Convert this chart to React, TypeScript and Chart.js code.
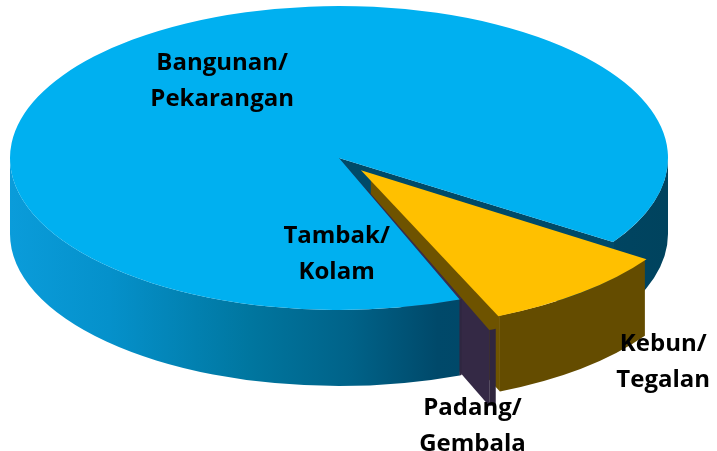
import React, { useEffect, useRef } from 'react';
import { Chart, registerables } from 'chart.js';

Chart.register(...registerables);

// ---- data ----
const categories = ['Kebun/Tegalan', 'Padang/Gembala', 'Tambak/Kolam', 'Bangunan/Pekarangan'];
const labelLines = [
  ['Kebun/', 'Tegalan'],
  ['Padang/', 'Gembala'],
  ['Tambak/', 'Kolam'],
  ['Bangunan/', 'Pekarangan'],
];
const shares = [9.25, 0.34, 0.1, 90.31];

// ---- styles ----
const topColors = ['#FFC000', '#8064A2', '#3A2E50', '#00B0F0'];
const faceColors = ['#6E5300', '#342945', '#2F2640', '#004A68'];
const wallColors = ['#644C00', '#30263E', '#2F2640', ''];
const explode = [77, 82, 0, 0];
const labelNudge = [
  [82, 70],
  [-20, 97],
  [-124, -45],
  [90, 41],
];

// ---- 3D projection (screen) ----
const CX = 339;
const CY = 158;
const RX = 329;
const RY = 152;
const DEPTH = 76;
const START_DEG = 33.6;

function geom(arc: any) {
  const s = arc.startAngle;
  const e = arc.endAngle;
  const circ = arc.circumference ?? e - s;
  const off = (arc.options.offset || 0) / 4;
  const fix = 1 - Math.sin(Math.min(Math.PI, circ || 0));
  const t = off + off * fix;
  const mid = (s + e) / 2;
  return {
    s,
    e,
    mid,
    x: arc.x + Math.cos(mid) * t,
    y: arc.y + Math.sin(mid) * t,
    r: arc.outerRadius,
  };
}

function frontIntervals(s: number, e: number) {
  const out: number[][] = [];
  for (let k = -2; k <= 3; k++) {
    const a = Math.max(s, 2 * Math.PI * k);
    const b = Math.min(e, 2 * Math.PI * k + Math.PI);
    if (b > a) out.push([a, b]);
  }
  return out;
}

const pie3d = {
  id: 'pie3d',
  beforeDatasetsDraw(chart: any) {
    const ctx = chart.ctx as CanvasRenderingContext2D;
    const meta = chart.getDatasetMeta(0);
    const arcs = meta.data;
    if (!arcs.length) return;
    const a0 = arcs[0];
    const R = a0.outerRadius;
    const px = a0.x;
    const py = a0.y;
    const sx = RX / R;
    const sy = RY / R;
    const D = DEPTH / sy;
    ctx.save();
    ctx.translate(CX, CY);
    ctx.scale(sx, sy);
    ctx.translate(-px, -py);

    const g = arcs.map(geom);

    // radial faces (back to front)
    const faceOrder = [3, 0, 2, 1];
    for (const i of faceOrder) {
      const q = g[i];
      const angles: number[] = [];
      if (Math.cos(q.s) < 0) angles.push(q.s);
      if (Math.cos(q.e) > 0) angles.push(q.e);
      for (const a of angles) {
        const ox = q.x + q.r * Math.cos(a);
        const oy = q.y + q.r * Math.sin(a);
        ctx.beginPath();
        ctx.moveTo(q.x, q.y);
        ctx.lineTo(ox, oy);
        ctx.lineTo(ox, oy + D);
        ctx.lineTo(q.x, q.y + D);
        ctx.closePath();
        ctx.fillStyle = faceColors[i];
        ctx.fill();
      }
    }

    // outer walls
    const wallOrder = [3, 2, 1, 0];
    for (const i of wallOrder) {
      const q = g[i];
      let fill: any = wallColors[i];
      if (!fill) {
        const grad = ctx.createLinearGradient(px - R, 0, px + R, 0);
        grad.addColorStop(0, '#0A9CDA');
        grad.addColorStop(0.15, '#0591CB');
        grad.addColorStop(0.365, '#00769F');
        grad.addColorStop(0.52, '#006288');
        grad.addColorStop(0.65, '#00496A');
        grad.addColorStop(1, '#00435E');
        fill = grad;
      }
      for (const [a, b] of frontIntervals(q.s, q.e)) {
        ctx.beginPath();
        ctx.arc(q.x, q.y, q.r, a, b, false);
        ctx.arc(q.x, q.y + D, q.r, b, a, true);
        ctx.closePath();
        ctx.fillStyle = fill;
        ctx.fill();
      }
    }
    // keep transform for the native top faces
  },
  afterDatasetsDraw(chart: any) {
    const ctx = chart.ctx as CanvasRenderingContext2D;
    ctx.restore();
    const meta = chart.getDatasetMeta(0);
    const arcs = meta.data;
    if (!arcs.length) return;
    const a0 = arcs[0];
    const R = a0.outerRadius;
    const px = a0.x;
    const py = a0.y;
    const sx = RX / R;
    const sy = RY / R;
    ctx.save();
    ctx.font = 'bold 24px "Open Sans", sans-serif';
    ctx.fillStyle = '#000000';
    ctx.textAlign = 'center';
    ctx.textBaseline = 'middle';
    arcs.forEach((arc: any, i: number) => {
      const q = geom(arc);
      const rimX = q.x + q.r * Math.cos(q.mid);
      const rimY = q.y + q.r * Math.sin(q.mid);
      const X = CX + (rimX - px) * sx + labelNudge[i][0];
      const Y = CY + (rimY - py) * sy + labelNudge[i][1];
      const lines = labelLines[i];
      const lh = 36;
      lines.forEach((ln, j) => {
        ctx.fillText(ln, X, Y + (j - (lines.length - 1) / 2) * lh);
      });
    });
    ctx.restore();
  },
};

export default function App() {
  const ref = useRef<HTMLCanvasElement | null>(null);
  useEffect(() => {
    if (!ref.current) return;
    const chart = new Chart(ref.current, {
      type: 'pie',
      data: {
        labels: categories,
        datasets: [
          {
            data: shares,
            backgroundColor: topColors,
            borderWidth: 0,
            offset: explode,
            hoverOffset: 0,
            clip: false,
          } as any,
        ],
      },
      options: {
        responsive: false,
        animation: false,
        devicePixelRatio: 1,
        rotation: START_DEG + 90,
        events: [],
        layout: { padding: 0 },
        plugins: {
          legend: { display: false },
          tooltip: { enabled: false },
        },
      } as any,
      plugins: [pie3d as any],
    });
    return () => chart.destroy();
  }, []);
  return (
    <div style={{ position: 'absolute', left: 0, top: 0, width: 717, height: 451, background: '#ffffff' }}>
      <canvas ref={ref} width={717} height={451} style={{ display: 'block' }} />
    </div>
  );
}
